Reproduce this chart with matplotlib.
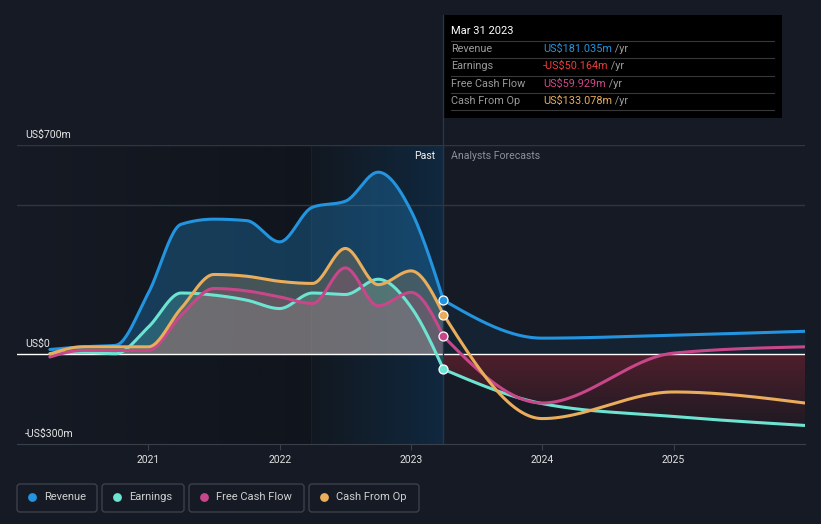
import numpy as np
import matplotlib.pyplot as plt
from matplotlib.patches import Polygon, Rectangle, FancyBboxPatch
from matplotlib.colors import to_rgba

plt.rcParams['font.family'] = ['Roboto', 'DejaVu Sans']

# values (US$ m), quarterly history then analyst forecasts
past_years = [2020.25, 2020.5, 2020.75, 2021.0, 2021.25, 2021.5, 2021.75,
              2022.0, 2022.25, 2022.5, 2022.75, 2023.0, 2023.247]
revenue_past = [16, 25, 30, 205, 435, 452, 447, 376, 492, 512, 609, 480, 181.035]
earnings_past = [2, 7, 2, 91, 205, 198, 181, 153, 205, 200, 251, 158, -50.164]
fcf_past = [-9, 13, 13, 13, 130, 220, 212, 192, 170, 289, 162, 207, 59.929]
cfo_past = [1, 25, 25, 25, 154, 267, 261, 244, 237, 354, 233, 279, 133.078]

forecast_years = [2023.247, 2024.0, 2025.0, 2026.0]
revenue_fc = [181.035, 54, 64, 77]
earnings_fc = [-50.164, -165, -208, -238]
fcf_fc = [59.929, -163, 4, 25]
cfo_fc = [133.078, -215, -126, -163]

year_ticks = [2021, 2022, 2023, 2024, 2025]
series_names = ['Revenue', 'Earnings', 'Free Cash Flow', 'Cash From Op']
series_colors = ['#2394df', '#6de3d2', '#c8478a', '#e9ad5b']
tooltip_values = ['US$181.035m', '-US$50.164m', 'US$59.929m', 'US$133.078m']
tooltip_colors = ['#2394df', '#f03c3c', '#d04a8c', '#e9ad5b']

BG = '#151a24'
divider = 2023.247
band_start = 2022.24


def monotone(x, y, n=300):
    # d3 curveMonotoneX style smoothing, only for drawing the line
    x = np.asarray(x, float)
    y = np.asarray(y, float)
    h = np.diff(x)
    s = np.diff(y) / h
    t = np.zeros_like(y)
    for i in range(1, len(y) - 1):
        p = (s[i - 1] * h[i] + s[i] * h[i - 1]) / (h[i - 1] + h[i])
        t[i] = (np.sign(s[i - 1]) + np.sign(s[i])) * min(abs(s[i - 1]), abs(s[i]), 0.5 * abs(p))
    t[0] = (3 * s[0] - t[1]) / 2 if len(y) > 2 else s[0]
    t[-1] = (3 * s[-1] - t[-2]) / 2 if len(y) > 2 else s[-1]
    xs = np.linspace(x[0], x[-1], n)
    idx = np.clip(np.searchsorted(x, xs, side='right') - 1, 0, len(x) - 2)
    u = (xs - x[idx]) / h[idx]
    h00 = 2 * u**3 - 3 * u**2 + 1
    h10 = u**3 - 2 * u**2 + u
    h01 = -2 * u**3 + 3 * u**2
    h11 = u**3 - u**2
    ys = h00 * y[idx] + h10 * h[idx] * t[idx] + h01 * y[idx + 1] + h11 * h[idx] * t[idx + 1]
    return xs, ys


W, H = 821, 524
fig = plt.figure(figsize=(W / 100, H / 100), dpi=100, facecolor=BG)
ax = fig.add_axes([17 / W, 1 - 444 / H, (805 - 17) / W, (444 - 145) / H])
ax.set_facecolor(BG)
ax.set_xlim(2020.0, 2026.0)
ax.set_ylim(-300, 700)

# background shading: darkening history area, then blue "last year" band
n = 256
g = np.linspace(0, 1, n)
left = np.zeros((1, n, 4))
left[..., :3] = to_rgba('#0d1016')[:3]
left[..., 3] = 0.55 * g
ax.imshow(left, extent=[2020.0, band_start, -300, 700], aspect='auto', zorder=0)
band = np.zeros((1, n, 4))
c0, c1 = np.array(to_rgba('#121820')[:3]), np.array(to_rgba('#10283f')[:3])
band[0, :, :3] = c0 + (c1 - c0) * g[:, None]
band[..., 3] = 1
ax.imshow(band, extent=[band_start, divider, -300, 700], aspect='auto', zorder=0)
ax.axvline(band_start, color='#17202b', lw=0.8, zorder=0.5)

for yv in [500, 700]:
    ax.axhline(yv, color='#30363f', lw=1, zorder=0.6)

past = [revenue_past, earnings_past, fcf_past, cfo_past]
fc = [revenue_fc, earnings_fc, fcf_fc, cfo_fc]

# past area fills
for vals, col, a in zip(past, series_colors, [0.3, 0.22, 0.22, 0.22]):
    xs, ys = monotone(past_years, vals)
    ax.fill_between(xs, ys, 0, color=col, alpha=a, lw=0, zorder=1)

# forecast fills: faint blue for revenue, red gradient for losses
xs, ys = monotone(forecast_years, revenue_fc)
ax.fill_between(xs, ys, 0, color='#2394df', alpha=0.07, lw=0, zorder=1)
xs, ys = monotone(forecast_years, earnings_fc)
clip = Polygon(np.column_stack([np.r_[xs, xs[::-1]], np.r_[ys, np.zeros_like(ys)]]),
               closed=True, facecolor='none', edgecolor='none', transform=ax.transData)
ax.add_patch(clip)
red = np.zeros((n, 1, 4))
r0, r1 = np.array(to_rgba('#4e1f2b')[:3]), np.array(to_rgba('#1e1a23')[:3])
red[:, 0, :3] = r0 + (r1 - r0) * g[:, None]
red[..., 3] = 1
im = ax.imshow(red, extent=[divider, 2026.0, -245, 0], aspect='auto', zorder=1.2)
im.set_clip_path(clip)

ax.axhline(0, color='white', lw=1, zorder=2)
ax.axvline(divider, color='#22384d', lw=1, zorder=2)

for pv, fv, col in zip(past, fc, series_colors):
    xs, ys = monotone(past_years, pv)
    ax.plot(xs, ys, color=col, lw=2.2, zorder=3, solid_capstyle='round')
    xs, ys = monotone(forecast_years, fv)
    ax.plot(xs, ys, color=col, lw=2.2, zorder=3, solid_capstyle='round')
    ax.scatter([divider], [pv[-1]], s=42, color=col, edgecolor='white', lw=0.9, zorder=4)

for side in ['top', 'right', 'left']:
    ax.spines[side].set_visible(False)
ax.spines['bottom'].set_color('#3a404a')
ax.set_yticks([])
ax.set_xticks(year_ticks)
ax.set_xticklabels([str(y) for y in year_ticks])
ax.tick_params(axis='x', colors='#3a404a', labelcolor='#e0e0e0', labelsize=7.5, length=4, pad=4)

for yv, lab in [(700, 'US$700m'), (0, 'US$0'), (-300, '-US$300m')]:
    ax.annotate(lab, xy=(0, yv), xycoords=('axes fraction', 'data'), xytext=(8, 5),
                textcoords='offset pixels', va='bottom', ha='left', color='#e6e6e6', fontsize=7.6)
ax.annotate('Past', xy=(divider, 700), xytext=(-8, -11), textcoords='offset pixels',
            ha='right', va='center', color='#f0f0f0', fontsize=7.6)
ax.annotate('Analysts Forecasts', xy=(divider, 700), xytext=(8, -11), textcoords='offset pixels',
            ha='left', va='center', color='#8c9099', fontsize=7.6)

# overlay in pixel coordinates for tooltip and legend
ov = fig.add_axes([0, 0, 1, 1])
ov.set_zorder(10)
ov.set_xlim(0, W)
ov.set_ylim(H, 0)
ov.axis('off')
ov.patch.set_alpha(0)

ov.plot([443, 443], [15, 145], color='#22384d', lw=1)
ov.add_patch(Rectangle((443, 15), 339, 103, facecolor='black', edgecolor='none'))
ov.text(451, 31, 'Mar 31 2023', color='white', fontsize=8, va='center', ha='left')
for yl in [41, 58, 76, 93, 110]:
    ov.plot([451, 774], [yl, yl], color='#383838', lw=0.8)
for i, (name, val, col) in enumerate(zip(series_names, tooltip_values, tooltip_colors)):
    yy = [49, 66, 84, 101][i]
    ov.text(451, yy, name, color='#9a9a9a', fontsize=7.8, va='center', ha='left')
    t = ov.text(543, yy, val, color=col, fontsize=7.8, va='center', ha='left')
    ov.annotate(' /yr', xy=(1, 0.5), xycoords=t, color='#9a9a9a', fontsize=7.8, va='center', ha='left')

boxes = [(17, 97), (102, 184), (189, 304), (309, 419)]
for (x0, x1), name, col in zip(boxes, series_names, series_colors):
    ov.add_patch(FancyBboxPatch((x0, 484), x1 - x0, 28, boxstyle='round,pad=0,rounding_size=3',
                                facecolor='none', edgecolor='#3b404a', lw=1))
    ov.scatter([x0 + 15], [497], s=40, color=col, lw=0)
    ov.text(x0 + 27, 497, name, color='#d0d0d0', fontsize=8, va='center', ha='left')

fig.savefig('out.png', dpi=100, facecolor=BG)
